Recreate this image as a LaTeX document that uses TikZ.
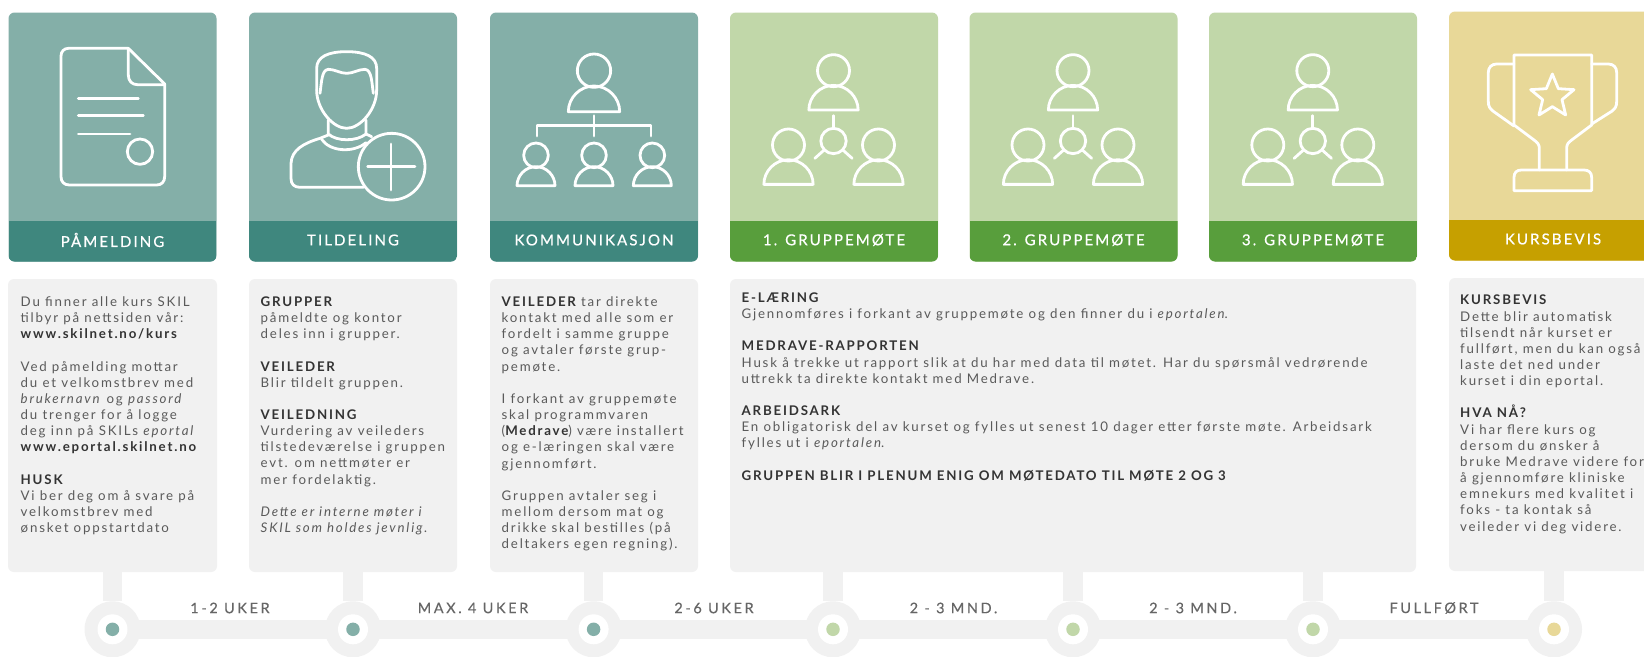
\documentclass[tikz,border=0pt]{standalone}
\usepackage{fontspec}
\newfontfamily\bodyf[LetterSpace=13.5]{Lato}
\newfontfamily\bandf[LetterSpace=14,FakeBold=0.6]{Lato}
\newfontfamily\timef[LetterSpace=18,FakeBold=0.3]{Lato}
\definecolor{teallight}{HTML}{84AFA8}
\definecolor{tealdark}{HTML}{3F877E}
\definecolor{greenlight}{HTML}{C1D7A9}
\definecolor{greendark}{HTML}{589E3C}
\definecolor{goldlight}{HTML}{E8D898}
\definecolor{golddark}{HTML}{C6A000}
\definecolor{panelc}{HTML}{F1F1F1}
\definecolor{bodyc}{HTML}{5A5A5A}
\definecolor{headc}{HTML}{333333}
\definecolor{timec}{HTML}{666666}
\tikzset{
  cardbg/.style={rounded corners=6pt,inner sep=0pt,minimum width=208pt,minimum height=249pt},
  panelbox/.style={fill=panelc,rounded corners=6pt,inner sep=0pt,outer sep=0pt,minimum height=293pt},
  bandtext/.style={text=white,font=\bandf\fontsize{15}{16}\selectfont,inner sep=0pt},
  bodytext/.style={anchor=north west,align=left,inner sep=0pt,text=bodyc,font=\bodyf\fontsize{13.3}{16.15}\selectfont},
  timetext/.style={text=timec,inner sep=0pt,font=\timef\fontsize{14.5}{16}\selectfont},
  iconline/.style={draw=white,line width=2.8pt,line cap=round,line join=round},
  bar/.style={draw=panelc,line width=19.5pt},
  outerdot/.style={circle,fill=panelc,minimum size=56pt,inner sep=0pt,outer sep=0pt},
  innerdot/.style={circle,fill=white,minimum size=30pt,inner sep=0pt},
  coredot/.style={circle,minimum size=13.5pt,inner sep=0pt},
}
\newcommand{\hd}[1]{{\bfseries\color{headc}#1}}
\newcommand{\cardbox}[6]{%
  \node[cardbg,fill=#4] (c#1) at ({#2+104},{#3+124.5}) {};
  \begin{scope}
    \path[clip,rounded corners=6pt] (#2,#3) rectangle ({#2+208},{#3+249});
    \fill[#5] (#2,{#3+208}) rectangle ({#2+208},{#3+249});
  \end{scope}
  \node[bandtext] (b#1) at ({#2+104},{#3+227.5}) {#6};
}
\newcommand{\personicon}[3]{%
  \begin{scope}[shift={(#1,#2)},scale=#3]
    \draw[iconline] (0,0) circle[radius=50];
    \draw[iconline] (-77,123) .. controls (-77,81) and (-42,46) .. (0,46)
      .. controls (42,46) and (77,81) .. (77,123) -- cycle;
  \end{scope}
}
\newcommand{\groupicon}[1]{%
  \begin{scope}[shift={(#1,0)},scale=1/3]
    \personicon{0}{212}{.96}
    \personicon{-135}{435}{.96}
    \personicon{135}{435}{.96}
    \draw[iconline] (0,423) circle[radius=38];
    \draw[iconline] (0,347) -- (0,385);
    \draw[iconline] (-28,450) -- (-56,475);
    \draw[iconline] (28,450) -- (56,475);
  \end{scope}
}
\begin{document}
\begin{tikzpicture}[x=1pt,y=-1pt]
\useasboundingbox (0,0) rectangle (1644,656);
\clip (0,0) rectangle (1644,656);
\fill[white] (0,0) rectangle (1644,656);

% cards
\cardbox{1}{8.5}{12.5}{teallight}{tealdark}{PÅMELDING}
\cardbox{2}{249}{12.5}{teallight}{tealdark}{TILDELING}
\cardbox{3}{490}{12.5}{teallight}{tealdark}{KOMMUNIKASJON}
\cardbox{4}{730}{12.5}{greenlight}{greendark}{1. GRUPPEMØTE}
\cardbox{5}{969.5}{12.5}{greenlight}{greendark}{2. GRUPPEMØTE}
\cardbox{6}{1209}{12.5}{greenlight}{greendark}{3. GRUPPEMØTE}
\cardbox{7}{1449}{11.5}{goldlight}{golddark}{KURSBEVIS}

% document icon
\begin{scope}[scale=1/3]
  \draw[iconline] (385,145) -- (205,145) .. controls (192,145) and (183,155) .. (183,168) -- (183,530)
    .. controls (183,545) and (192,555) .. (208,555) -- (470,555) .. controls (485,555) and (494,545) .. (494,530) -- (494,252) -- cycle;
  \draw[iconline] (385,145) -- (385,225) .. controls (385,243) and (396,254) .. (412,254) -- (494,254);
  \draw[iconline] (235,295) -- (415,295);
  \draw[iconline] (235,346) -- (430,346);
  \draw[iconline] (235,402) -- (390,402);
  \draw[iconline] (420,455) circle[radius=38];
\end{scope}

% person with plus icon
\begin{scope}[scale=1/3]
  \draw[iconline] (950,270) -- (950,205) .. controls (950,170) and (985,155) .. (1040,155)
     .. controls (1095,155) and (1130,170) .. (1130,205) -- (1130,270);
  \draw[iconline] (960,280) .. controls (965,245) and (965,210) .. (985,208)
     .. controls (1005,208) and (1020,220) .. (1040,220)
     .. controls (1060,220) and (1075,208) .. (1095,208)
     .. controls (1115,210) and (1115,245) .. (1120,280);
  \draw[iconline] (950,270) .. controls (950,330) and (1000,385) .. (1040,385)
     .. controls (1080,385) and (1130,330) .. (1130,270);
  \draw[iconline] (985,360) -- (985,402) .. controls (1010,425) and (1070,425) .. (1098,402) -- (1098,360);
  \draw[iconline] (965,418) .. controls (990,455) and (1060,460) .. (1098,428);
  \draw[iconline] (985,405) -- (960,415) .. controls (910,430) and (875,450) .. (873,490) -- (873,535)
     .. controls (873,552) and (882,562) .. (900,562) -- (1090,562);
  \draw[iconline] (1098,402) -- (1115,410);
  \draw[iconline] (1175,500) circle[radius=100];
  \draw[iconline] (1103,500) -- (1245,500);
  \draw[iconline] (1173,432) -- (1173,570);
\end{scope}

% hierarchy icon
\begin{scope}[shift={(480,0)},scale=1/3]
  \personicon{342}{212}{1}
  \personicon{168}{466}{.74}
  \personicon{342}{466}{.74}
  \personicon{517}{466}{.74}
  \draw[iconline] (342,347) -- (342,408);
  \draw[iconline] (171,408) -- (171,376) -- (513,376) -- (513,408);
\end{scope}

% group icons
\groupicon{833.5}
\groupicon{1073}
\groupicon{1312.8}

% trophy icon
\begin{scope}[shift={(1180,0)},scale=1/3]
  \draw[iconline] (1078,510) -- (1078,445) .. controls (1078,432) and (1072,428) .. (1062,420) -- (1002,375)
     -- (1002,165) -- (1235,165) -- (1235,375) -- (1175,420) .. controls (1165,428) and (1160,432) .. (1160,445) -- (1160,510);
  \draw[iconline] (1002,192) -- (950,192) .. controls (935,192) and (925,202) .. (925,217) -- (925,305)
     .. controls (925,320) and (930,326) .. (940,334) -- (1002,378);
  \draw[iconline] (1235,192) -- (1285,192) .. controls (1300,192) and (1310,202) .. (1310,217) -- (1310,305)
     .. controls (1310,320) and (1305,326) .. (1295,334) -- (1235,372);
  \draw[iconline] (1002,572) -- (1002,532) .. controls (1002,518) and (1010,510) .. (1024,510) -- (1212,510)
     .. controls (1226,510) and (1235,518) .. (1235,532) -- (1235,572) -- cycle;
  \draw[iconline] (1117,222) -- (1135,266) -- (1182,269) -- (1146,299) -- (1157,345) -- (1117,320)
     -- (1077,345) -- (1088,299) -- (1052,269) -- (1099,266) -- cycle;
\end{scope}

% panels
\node[panelbox,minimum width=209pt] (p1) at (112.5,425.5) {};
\node[panelbox,minimum width=208pt] (p2) at (353,425.5) {};
\node[panelbox,minimum width=208pt] (p3) at (594,425.5) {};
\node[panelbox,minimum width=686pt] (p4) at (1073,425.5) {};
\node[panelbox,minimum width=208pt] (p7) at (1553,424.5) {};

% timeline
\node[outerdot] (t1) at (112.5,629.3) {};
\node[outerdot] (t2) at (353,629.3) {};
\node[outerdot] (t3) at (593.6,629.3) {};
\node[outerdot] (t4) at (833,629.3) {};
\node[outerdot] (t5) at (1073,629.3) {};
\node[outerdot] (t6) at (1313,629.3) {};
\node[outerdot] (t7) at (1554,629.3) {};
\foreach \a/\b in {1/2,2/3,3/4,4/5,5/6,6/7} \draw[bar,shorten >=-2pt,shorten <=-2pt] (t\a) -- (t\b);
\draw[bar] (t1 |- p1.south) -- (t1);
\draw[bar] (t2 |- p2.south) -- (t2);
\draw[bar] (t3 |- p3.south) -- (t3);
\draw[bar] (t4 |- p4.south) -- (t4);
\draw[bar] (t5 |- p4.south) -- (t5);
\draw[bar] (t6 |- p4.south) -- (t6);
\draw[bar] (t7 |- p7.south) -- (t7);
\foreach \i/\c in {1/teallight,2/teallight,3/teallight,4/greenlight,5/greenlight,6/greenlight,7/goldlight}{
  \node[innerdot] (w\i) at (t\i) {};
  \node[coredot,fill=\c] (d\i) at (t\i) {};
}
\node[timetext] (l1) at (230,608) {1-2 UKER};
\node[timetext] (l2) at (473,608) {MAX. 4 UKER};
\node[timetext] (l3) at (714,608) {2-6 UKER};
\node[timetext] (l4) at (953.5,608) {2 - 3 MND.};
\node[timetext] (l5) at (1193,608) {2 - 3 MND.};
\node[timetext] (l6) at (1434,608) {FULLFØRT};

% panel texts
\node[bodytext] (x1) at (20.5,296.5) {Du finner alle kurs SKIL\\
tilbyr på nettsiden vår:\\
\hd{www.skilnet.no/kurs}\\[16.15pt]
Ved påmelding mottar\\
du et velkomstbrev med\\
\textit{brukernavn} og \textit{passord}\\
du trenger for å logge\\
deg inn på SKILs \textit{eportal}\\
\hd{www.eportal.skilnet.no}\\[16.15pt]
\hd{HUSK}\\
Vi ber deg om å svare på\\
velkomstbrev med\\
ønsket oppstartdato};
\node[bodytext] (x2) at (260.5,296.5) {\hd{GRUPPER}\\
påmeldte og kontor\\
deles inn i grupper.\\[16.15pt]
\hd{VEILEDER}\\
Blir tildelt gruppen.\\[16.15pt]
\hd{VEILEDNING}\\
Vurdering av veileders\\
tilstedeværelse i gruppen\\
evt. om nettmøter er\\
mer fordelaktig.\\[16.15pt]
\textit{Dette er interne møter i}\\
\textit{SKIL som holdes jevnlig.}};
\node[bodytext] (x3) at (501.5,296.5) {\hd{VEILEDER} tar direkte\\
kontakt med alle som er\\
fordelt i samme gruppe\\
og avtaler første grup-\\
pemøte.\\[16.15pt]
I forkant av gruppemøte\\
skal programmvaren\\
(\hd{Medrave}) være installert\\
og e-læringen skal være\\
gjennomført.\\[16.15pt]
Gruppen avtaler seg i\\
mellom dersom mat og\\
drikke skal bestilles (på\\
deltakers egen regning).};
\node[bodytext] (x4) at (741.5,292.5) {\hd{E-LÆRING}\\
Gjennomføres i forkant av gruppemøte og den finner du i \textit{eportalen}.\\[16.15pt]
\hd{MEDRAVE-RAPPORTEN}\\
Husk å trekke ut rapport slik at du har med data til møtet. Har du spørsmål vedrørende\\
uttrekk ta direkte kontakt med Medrave.\\[16.15pt]
\hd{ARBEIDSARK}\\
En obligatorisk del av kurset og fylles ut senest 10 dager etter første møte. Arbeidsark\\
fylles ut i \textit{eportalen}.\\[16.15pt]
\hd{GRUPPEN BLIR I PLENUM ENIG OM MØTEDATO TIL MØTE 2 OG 3}};
\node[bodytext] (x7) at (1460,295) {\hd{KURSBEVIS}\\
Dette blir automatisk\\
tilsendt når kurset er\\
fullført, men du kan også\\
laste det ned under\\
kurset i din eportal.\\[16.15pt]
\hd{HVA NÅ?}\\
Vi har flere kurs og\\
dersom du ønsker å\\
bruke Medrave videre for\\
å gjennomføre kliniske\\
emnekurs med kvalitet i\\
foks - ta kontak så\\
veileder vi deg videre.};
\end{tikzpicture}
\end{document}
